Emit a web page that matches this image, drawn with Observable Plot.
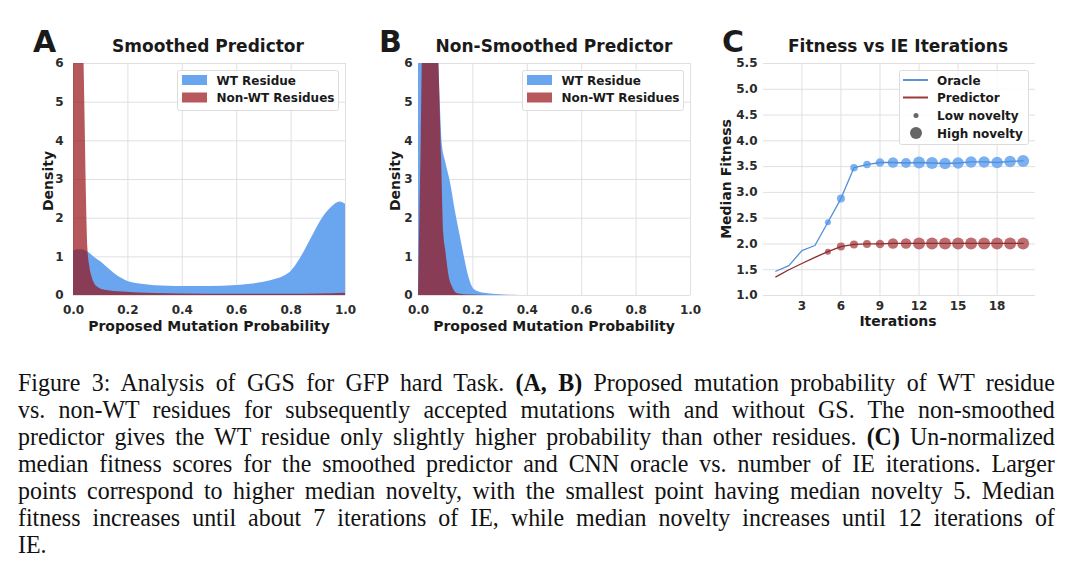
<!DOCTYPE html>
<html>
<head>
<meta charset="utf-8">
<script src="https://cdn.jsdelivr.net/npm/d3@7"></script>
<script src="https://cdn.jsdelivr.net/npm/@observablehq/plot@0.6"></script>
<style>
  html, body { margin: 0; padding: 0; background: #fff; }
  #root { position: relative; width: 1080px; height: 579px; overflow: hidden; background: #fff; }
  .panel { position: absolute; top: 0; }
  #overlay { position: absolute; left: 0; top: 0; }
  #caption { position: absolute; left: 18px; top: 369px; width: 1127px;
    transform: scaleX(0.92); transform-origin: 0 0;
    font-family: "Liberation Serif", "Times New Roman", serif; font-size: 26px; line-height: 27px;
    color: #111; letter-spacing: 0px; }
  #caption div { text-align: justify; text-align-last: justify; white-space: nowrap; }
  #caption div.last { text-align-last: left; }
</style>
</head>
<body>
<div id="root">
  <div id="panelA" class="panel" style="left:0px"></div>
  <div id="panelB" class="panel" style="left:360px"></div>
  <div id="panelC" class="panel" style="left:700px"></div>
  <svg id="overlay" width="1080" height="350" font-family="DejaVu Sans" font-weight="bold"></svg>
  <div id="caption">
    <div>Figure 3: Analysis of GGS for GFP hard Task. <b>(A, B)</b> Proposed mutation probability of WT residue</div>
    <div>vs. non-WT residues for subsequently accepted mutations with and without GS. The non-smoothed</div>
    <div>predictor gives the WT residue only slightly higher probability than other residues. <b>(C)</b> Un-normalized</div>
    <div>median fitness scores for the smoothed predictor and CNN oracle vs. number of IE iterations. Larger</div>
    <div>points correspond to higher median novelty, with the smallest point having median novelty 5. Median</div>
    <div>fitness increases until about 7 iterations of IE, while median novelty increases until 12 iterations of</div>
    <div class="last">IE.</div>
  </div>
</div>
<script>
// ---------- Data ----------
// Panel A: Smoothed predictor, density of proposed mutation probability
const probWtA    = [0, 0.01, 0.02, 0.03, 0.04, 0.05, 0.06, 0.07, 0.08, 0.1, 0.12, 0.15, 0.18, 0.2, 0.25, 0.3, 0.35, 0.4, 0.5, 0.6, 0.65, 0.7, 0.75, 0.78, 0.8, 0.82, 0.85, 0.88, 0.9, 0.93, 0.95, 0.98, 1.0];
const densWtA    = [1.15, 1.17, 1.18, 1.18, 1.17, 1.14, 1.09, 1.03, 0.97, 0.87, 0.75, 0.57, 0.43, 0.36, 0.29, 0.255, 0.24, 0.235, 0.235, 0.26, 0.29, 0.34, 0.43, 0.52, 0.62, 0.8, 1.15, 1.55, 1.82, 2.14, 2.29, 2.42, 2.36];
const probNonA   = [0, 0.02, 0.035, 0.042, 0.048, 0.053, 0.06, 0.07, 0.088, 0.12, 0.18, 0.3, 0.5, 0.8, 0.9, 1.0];
const densNonA   = [15, 14, 7.5, 4.8, 2.4, 1.2, 0.75, 0.44, 0.22, 0.13, 0.09, 0.05, 0.03, 0.03, 0.04, 0.06];

// Panel B: Non-smoothed predictor
const probWtB    = [0, 0.02, 0.05, 0.07, 0.08, 0.087, 0.1, 0.118, 0.135, 0.154, 0.17, 0.185, 0.203, 0.22, 0.25, 0.3, 0.35, 0.4];
const densWtB    = [9, 10, 9, 7, 5, 3.94, 3.45, 2.9, 2.2, 1.52, 0.95, 0.48, 0.17, 0.1, 0.05, 0.02, 0.005, 0];
const probNonB   = [0, 0.005, 0.01, 0.015, 0.03, 0.06, 0.075, 0.085, 0.093, 0.1, 0.113, 0.125, 0.14, 0.17, 0.2, 0.25];
const densNonB   = [0, 2, 4, 6.5, 9, 8, 6, 3.5, 1.6, 1.17, 0.48, 0.22, 0.06, 0.02, 0.01, 0];

const probTicks    = [0, 0.2, 0.4, 0.6, 0.8, 1.0];
const densityTicks = [0, 1, 2, 3, 4, 5, 6];

// Panel C: Fitness vs IE iterations
const iterations      = [1, 2, 3, 4, 5, 6, 7, 8, 9, 10, 11, 12, 13, 14, 15, 16, 17, 18, 19, 20];
const oracleFitness   = [1.47, 1.58, 1.87, 1.97, 2.42, 2.88, 3.48, 3.54, 3.58, 3.58, 3.57, 3.58, 3.57, 3.56, 3.57, 3.59, 3.59, 3.58, 3.60, 3.61];
const predFitness     = [1.36, 1.50, 1.62, 1.74, 1.85, 1.95, 1.99, 2.00, 2.00, 2.01, 2.01, 2.01, 2.01, 2.01, 2.01, 2.01, 2.01, 2.01, 2.01, 2.01];
const oracleNovelty   = [null, null, null, null, 5, 7, 6.5, 6.5, 7.5, 9.5, 9, 11, 11, 10.5, 10.5, 10.5, 10.5, 10.5, 10.5, 11];
const predNovelty     = [null, null, null, null, 5, 7, 7, 7, 7.5, 9.5, 9.5, 11, 11, 11, 11, 11, 11, 11, 11, 11];
const iterTicks       = [3, 6, 9, 12, 15, 18];
const fitnessTicks    = [1.0, 1.5, 2.0, 2.5, 3.0, 3.5, 4.0, 4.5, 5.0, 5.5];

// ---------- Styles ----------
const BLUE = "#6aa6ef";
const RED = "#971016";
const RED_LEG = "#b7585c";
const GRID = "#e0e0e0";
const TXT = "#2b2b2b";
const baseStyle = { fontFamily: "DejaVu Sans", fontSize: "12px", fontWeight: "bold", color: TXT, background: "transparent", overflow: "visible" };

const rows = (xs, ys) => xs.map((x, i) => ({ x, y: ys[i] }));

function densityPanel(wtX, wtY, nonX, nonY, marginLeft, marginRight, width, yPad) {
  return Plot.plot({
    width, height: 340,
    marginLeft, marginRight, marginTop: 63, marginBottom: 45,
    x: { domain: [0, 1] },
    y: { domain: [0, 6] },
    style: baseStyle,
    marks: [
      Plot.gridX(probTicks, { stroke: GRID, strokeOpacity: 1 }),
      Plot.gridY(densityTicks, { stroke: GRID, strokeOpacity: 1 }),
      Plot.areaY(rows(wtX, wtY), { x: "x", y: "y", fill: BLUE, curve: "monotone-x", clip: true }),
      Plot.areaY(rows(nonX, nonY), { x: "x", y: "y", fill: RED, fillOpacity: 0.7, curve: "monotone-x", clip: true }),
      Plot.axisX(probTicks, { tickSize: 0, tickPadding: 10, tickFormat: d => d.toFixed(1), label: null }),
      Plot.axisY(densityTicks, { tickSize: 0, tickPadding: yPad, tickFormat: d => String(d), label: null })
    ]
  });
}

document.getElementById("panelA").appendChild(densityPanel(probWtA, densWtA, probNonA, densNonA, 73, 15, 360, 10));
document.getElementById("panelB").appendChild(densityPanel(probWtB, densWtB, probNonB, densNonB, 58, 10, 340, 6));

const cRows = iterations.map((it, i) => ({ it, oracle: oracleFitness[i], pred: predFitness[i], on: oracleNovelty[i], pn: predNovelty[i] }));
const plotC = Plot.plot({
  width: 380, height: 340,
  marginLeft: 63, marginRight: 45, marginTop: 63, marginBottom: 45,
  x: { domain: [0.05, 20.95] },
  y: { domain: [1.0, 5.5] },
  r: { type: "linear", domain: [5, 11], range: [3, 6] },
  style: baseStyle,
  marks: [
    Plot.gridX(iterTicks, { stroke: GRID, strokeOpacity: 1 }),
    Plot.gridY(fitnessTicks, { stroke: GRID, strokeOpacity: 1 }),
    Plot.dot(cRows.filter(d => d.on != null), { x: "it", y: "oracle", r: "on", fill: "#6ea8f0", fillOpacity: 0.9, stroke: "none" }),
    Plot.dot(cRows.filter(d => d.pn != null), { x: "it", y: "pred", r: "pn", fill: "#b65e60", fillOpacity: 0.9, stroke: "none" }),
    Plot.line(cRows, { x: "it", y: "oracle", stroke: "#4f8fdc", strokeWidth: 1.3 }),
    Plot.line(cRows, { x: "it", y: "pred", stroke: "#8c2d2d", strokeWidth: 1.3 }),
    Plot.axisX(iterTicks, { tickSize: 0, tickPadding: 6, label: null }),
    Plot.axisY(fitnessTicks, { tickSize: 0, tickPadding: 6, tickFormat: d => d.toFixed(1), label: null })
  ]
});
document.getElementById("panelC").appendChild(plotC);

// ---------- Overlay: panel letters, titles, axis labels, legends ----------
const ov = d3.select("#overlay");
function txt(x, y, s, size, anchor, rotate) {
  const t = ov.append("text").attr("x", x).attr("y", y).attr("font-size", size)
    .attr("text-anchor", anchor || "start").attr("fill", "#1a1a1a").text(s);
  if (rotate) t.attr("transform", `rotate(-90 ${x} ${y})`);
  return t;
}
// letters
txt(33, 52, "A", 30); txt(379, 52, "B", 30); txt(722, 52, "C", 30);
// titles
txt(208, 52, "Smoothed Predictor", 17, "middle");
txt(554, 52, "Non-Smoothed Predictor", 17, "middle");
txt(898, 52, "Fitness vs IE Iterations", 17, "middle");
// axis labels
txt(209, 331, "Proposed Mutation Probability", 14, "middle");
txt(554, 331, "Proposed Mutation Probability", 14, "middle");
txt(898, 326, "Iterations", 14, "middle");
txt(52.5, 181, "Density", 14, "middle", true);
txt(399.5, 181, "Density", 14, "middle", true);
txt(730.5, 179, "Median Fitness", 14, "middle", true);

function boxLegend(x0, y0, w, h) {
  ov.append("rect").attr("x", x0 + 0.5).attr("y", y0 + 0.5).attr("width", w).attr("height", h)
    .attr("rx", 2).attr("fill", "#fff").attr("fill-opacity", 0.85).attr("stroke", "#dcdcdc");
}
function areaLegend(x0) {
  boxLegend(x0, 70, 161, 40);
  ov.append("rect").attr("x", x0 + 5).attr("y", 75).attr("width", 25).attr("height", 10).attr("fill", BLUE);
  ov.append("rect").attr("x", x0 + 5).attr("y", 92.5).attr("width", 25).attr("height", 10).attr("fill", RED_LEG);
  txt(x0 + 39.5, 84.5, "WT Residue", 12);
  txt(x0 + 39.5, 102, "Non-WT Residues", 12);
}
areaLegend(177);
areaLegend(522);

boxLegend(899, 70, 129, 74);
ov.append("line").attr("x1", 903).attr("x2", 928).attr("y1", 80).attr("y2", 80).attr("stroke", "#5b93d6").attr("stroke-width", 2);
ov.append("line").attr("x1", 903).attr("x2", 928).attr("y1", 97.5).attr("y2", 97.5).attr("stroke", "#9b3838").attr("stroke-width", 2);
ov.append("circle").attr("cx", 916).attr("cy", 115.5).attr("r", 2.5).attr("fill", "#666");
ov.append("circle").attr("cx", 916).attr("cy", 133).attr("r", 6).attr("fill", "#666");
txt(937, 84.5, "Oracle", 12);
txt(937, 102, "Predictor", 12);
txt(937, 120, "Low novelty", 12);
txt(937, 137.5, "High novelty", 12);
</script>
</body>
</html>
